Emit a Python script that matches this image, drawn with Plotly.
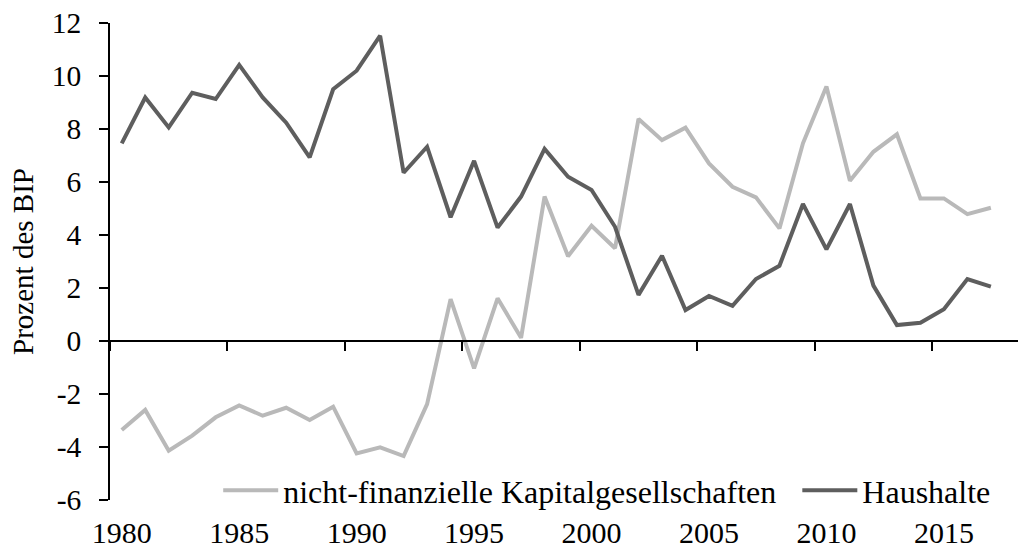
import plotly.graph_objects as go

years = list(range(1980, 2018))
nfk = [-3.36, -2.6, -4.14, -3.57, -2.88, -2.43, -2.82, -2.52, -2.98, -2.48,
       -4.24, -4.01, -4.34, -2.38, 1.58, -1.03, 1.61, 0.12, 5.45, 3.2,
       4.35, 3.5, 8.38, 7.58, 8.05, 6.7, 5.82, 5.42, 4.25, 7.46,
       9.6, 6.05, 7.14, 7.8, 5.38, 5.38, 4.79, 5.03]
haushalte = [7.46, 9.19, 8.06, 9.37, 9.13, 10.42, 9.19, 8.24, 6.93, 9.5,
             10.2, 11.52, 6.35, 7.33, 4.67, 6.8, 4.28, 5.45, 7.25, 6.2,
             5.7, 4.31, 1.74, 3.22, 1.17, 1.7, 1.33, 2.34, 2.84, 5.17,
             3.46, 5.17, 2.09, 0.6, 0.69, 1.2, 2.34, 2.05]
label_years = [1980, 1985, 1990, 1995, 2000, 2005, 2010, 2015]
y_ticks = [-6, -4, -2, 0, 2, 4, 6, 8, 10, 12]

FONT = "Liberation Serif"
xr = [1979.5, 2018.155]
yr = [-6, 12]

fig = go.Figure()
fig.add_trace(go.Scatter(x=years, y=nfk, mode="lines",
                         name="nicht-finanzielle Kapitalgesellschaften\u00a0\u00a0",
                         line=dict(color="#b9b9b9", width=4)))
fig.add_trace(go.Scatter(x=years, y=haushalte, mode="lines", name="Haushalte",
                         line=dict(color="#5e5e5e", width=4), xaxis="x2"))

boundaries = [y - 0.5 for y in label_years]

fig.update_layout(
    width=1018, height=551,
    margin=dict(l=110, r=0, t=23, b=51, autoexpand=False),
    paper_bgcolor="white", plot_bgcolor="white",
    font=dict(family=FONT, size=29, color="black"),
    showlegend=True,
    legend=dict(orientation="h", x=0.976, xanchor="right", y=0.02, yanchor="middle",
                bgcolor="rgba(0,0,0,0)", font=dict(family=FONT, size=32, color="black"),
                itemwidth=55, tracegroupgap=0),
    xaxis=dict(range=xr, showgrid=False, zeroline=False, showline=False,
               tickvals=label_years, ticktext=[str(v) for v in label_years],
               ticks="", ticklabelstandoff=12, automargin=False,
               tickfont=dict(family=FONT, size=30, color="black")),
    xaxis2=dict(range=xr, overlaying="x", anchor="free", position=(0 - yr[0]) / (yr[1] - yr[0]),
                side="bottom", showgrid=False, zeroline=False, showline=True,
                linecolor="black", linewidth=1.5, tickvals=[xr[0]] + boundaries[1:],
                ticks="outside", ticklen=9, tickwidth=1.5, tickcolor="black",
                showticklabels=False),
    yaxis=dict(range=yr, showgrid=False, zeroline=False, showline=True,
               linecolor="black", linewidth=1.5, ticks="outside", ticklen=9,
               tickwidth=1.5, tickcolor="black", tickvals=y_ticks,
               ticktext=[str(v) for v in y_ticks], ticklabelstandoff=12,
               automargin=False,
               tickfont=dict(family=FONT, size=29.5, color="black"),
               title=dict(text="Prozent des BIP", font=dict(family=FONT, size=29, color="black"),
                          standoff=10)),
)

fig.write_html("out.html", config={"displayModeBar": False},
               post_script="document.body.style.margin='0';")
